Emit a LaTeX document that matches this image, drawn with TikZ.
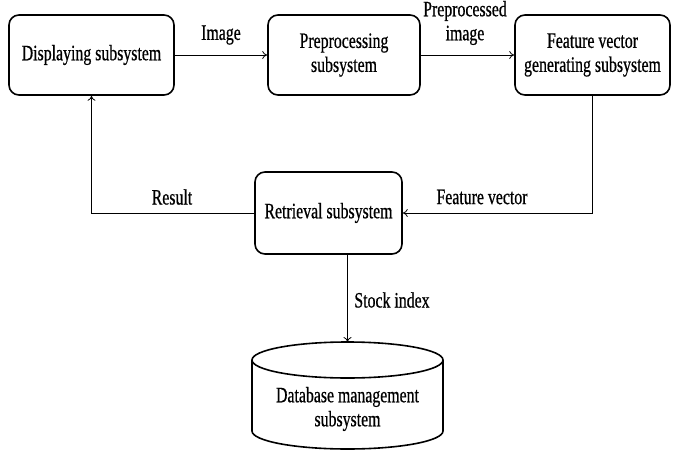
\documentclass[tikz,border=0pt]{standalone}
\usepackage{fontspec}
\setmainfont{Liberation Serif}[FakeStretch=0.72,FakeBold=0.6]
\usetikzlibrary{arrows.meta}
\begin{document}
\begin{tikzpicture}[x=1pt,y=1pt,
  font=\fontsize{22}{24}\selectfont,
  box/.style={draw,line width=1.6pt,rounded corners=10pt,align=center,inner sep=0pt},
  conn/.style={line width=0.8pt,-{To[length=5pt,width=8pt]}},
  lbl/.style={align=center,inner sep=0pt}]
\useasboundingbox (0,0) rectangle (675,-450);
\node[box,minimum width=165,minimum height=80] (disp) at (91.5,-55) {Displaying subsystem};
\node[box,minimum width=152,minimum height=80] (pre) at (344,-55) {Preprocessing\\subsystem};
\node[box,minimum width=155,minimum height=80] (feat) at (592.5,-55) {Feature vector\\generating subsystem};
\node[box,minimum width=147,minimum height=82] (ret) at (328.5,-213) {Retrieval subsystem};
% database cylinder
\coordinate (dbtop) at (347.5,-342);
\draw[line width=1.6pt] (347.5,-360) ellipse [x radius=95.5, y radius=18];
\draw[line width=1.6pt] (252,-360) -- (252,-431) arc[start angle=180,end angle=360,x radius=95.5,y radius=18] -- (443,-360);
\node[lbl] (db) at (347.5,-409) {Database management\\subsystem};
% connectors
\draw[conn] (disp.east) -- node[lbl,above=10pt] (limg) {Image} (pre.west);
\draw[conn] (pre.east) -- (feat.west);
\node[lbl] (lpre) at (465,-23) {Preprocessed\\image};
\coordinate (fcorner) at (feat.south |- ret.east);
\draw[conn] (feat.south) -- (fcorner) -- (ret.east);
\node[lbl] (lfv) at (482,-197) {Feature vector};
\coordinate (rcorner) at (disp.south |- ret.west);
\draw[conn] (ret.west) -- (rcorner) -- (disp.south);
\node[lbl] (lres) at (172,-197) {Result};
\draw[conn] (ret.south -| dbtop) -- (dbtop);
\node[lbl] (lstock) at (392,-300) {Stock index};
\end{tikzpicture}
\end{document}
